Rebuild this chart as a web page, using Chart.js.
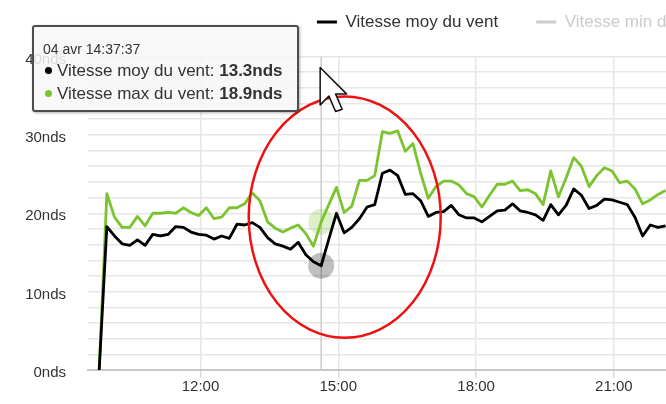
<!DOCTYPE html>
<html>
<head>
<meta charset="utf-8">
<script src="https://cdn.jsdelivr.net/npm/chart.js@4"></script>
<style>
  html, body { margin: 0; padding: 0; overflow: hidden; background: #ffffff; }
  #wrap { position: relative; width: 970px; height: 404px; }
  #tip {
    position: absolute; display: none;
    background: rgba(247, 247, 247, 0.85);
    border: 2px solid #4d4d4d; border-radius: 3px;
    padding: 14px 14px 5px 9px;
    font-family: 'Liberation Sans', Arial, sans-serif; color: #333333;
    white-space: nowrap; pointer-events: none;
    box-shadow: 1px 1px 3px rgba(0, 0, 0, 0.3);
  }
  #tip .title { font-size: 14px; line-height: 16px; margin-bottom: 2px; }
  #tip .row { font-size: 17px; line-height: 23px; }
  #tip .dot { display: inline-block; width: 7px; height: 7px; border-radius: 50%; margin: 0 5px 2px 2px; vertical-align: middle; }
</style>
</head>
<body>
<div id="wrap">
  <canvas id="chart" width="970" height="404"></canvas>
  <div id="tip"></div>
</div>
<script>
const dateLabel = '04 avr';
const startTime = '09:47:37';
const stepMinutes = 10;
const unit = 'nds';

const seriesNames = ['Vitesse moy du vent', 'Vitesse min du vent', 'Vitesse max du vent'];

const vitesseMoy = [
    0, 18.3, 17.1, 16.1, 15.9, 16.6, 15.9, 17.3, 17.1, 17.3,
    18.3, 18.2, 17.6, 17.3, 17.2, 16.7, 17.1, 16.8, 18.6, 18.5,
    18.8, 18.2, 16.9, 16.1, 15.8, 15.4, 16.3, 14.7, 13.8, 13.3,
    16.7, 20.0, 17.5, 18.2, 19.3, 20.8, 21.1, 25.1, 25.5, 24.8,
    22.4, 22.5, 21.6, 19.6, 20.1, 20.2, 21.0, 19.8, 19.4, 19.4,
    18.9, 19.6, 20.3, 20.4, 21.2, 20.3, 20.1, 19.8, 19.1, 21.1,
    19.8, 21.0, 23.1, 22.3, 20.6, 21.0, 21.8, 21.7, 21.4, 21.1,
    19.5, 17.1, 18.5, 18.2, 18.4
];
const vitesseMax = [
    0, 22.5, 19.5, 18.2, 18.2, 19.6, 18.4, 20.0, 20.0, 20.1,
    20.0, 20.7, 20.1, 19.7, 20.7, 19.3, 19.5, 20.7, 20.7, 21.2,
    22.6, 21.6, 18.9, 18.1, 17.6, 18.1, 18.5, 17.4, 15.8, 18.9,
    21.1, 23.3, 20.1, 20.9, 24.2, 24.2, 24.8, 30.4, 30.2, 30.5,
    27.9, 28.9, 25.1, 21.9, 23.4, 24.1, 24.1, 23.6, 22.5, 22.1,
    20.8, 22.3, 23.7, 23.7, 24.1, 22.9, 23.0, 22.5, 21.1, 25.4,
    22.1, 24.5, 27.1, 26.0, 23.4, 24.8, 25.8, 25.4, 23.9, 24.1,
    23.1, 21.2, 21.7, 22.4, 22.9
];
const vitesseMin = []; // série masquée dans la légende

const xTickHours = [12, 15, 18, 21, 24, 27];
const xTickLabels = ['12:00', '15:00', '18:00', '21:00', '00:00', '03:00'];
const yTicks = [0, 10, 20, 30, 40];
const hoverIndex = 29;

// zone entourée en rouge (heure, valeur) et demi-axes
const circleCenter = [15.14, 19.5];
const circleRadius = [2.09, 15.4];

const toHours = (s) => {
    const [h, m, sec] = s.split(':').map(Number);
    return h + m / 60 + sec / 3600;
};
const formatTime = (h) => {
    const t = Math.round(h * 3600);
    const p = (n) => String(n).padStart(2, '0');
    return p(Math.floor(t / 3600) % 24) + ':' + p(Math.floor(t / 60) % 60) + ':' + p(t % 60);
};
const hours = vitesseMoy.map((v, i) => toHours(startTime) + i * stepMinutes / 60);
const points = (values) => values.map((v, i) => ({ x: hours[i], y: v }));

Chart.defaults.font.family = "'Liberation Sans', Arial, sans-serif";
Chart.defaults.color = '#333333';

const renderTooltip = (context) => {
    const tt = context.tooltip;
    const chart = context.chart;
    const el = document.getElementById('tip');
    if (tt.opacity === 0 || !tt.dataPoints || !tt.dataPoints.length) {
        el.style.display = 'none';
        return;
    }
    const i = tt.dataPoints[0].dataIndex;
    let html = '<div class="title">' + dateLabel + ' ' + formatTime(hours[i]) + '</div>';
    tt.dataPoints.forEach(p => {
        html += '<div class="row"><span class="dot" style="background:' + p.dataset.borderColor + '"></span>' +
            p.dataset.label + ': <b>' + p.parsed.y.toFixed(1) + unit + '</b></div>';
    });
    el.innerHTML = html;
    el.style.left = (chart.chartArea.left - 56) + 'px';
    el.style.top = (chart.chartArea.top - 32) + 'px';
    el.style.display = 'block';
};

const overlay = {
    id: 'overlay',
    beforeDatasetsDraw(chart) {
        const active = chart.getActiveElements();
        if (!active.length) return;
        const { ctx, chartArea } = chart;
        const x = active[0].element.x;
        ctx.save();
        ctx.strokeStyle = '#cccccc';
        ctx.lineWidth = 1.5;
        ctx.beginPath();
        ctx.moveTo(x, chartArea.top);
        ctx.lineTo(x, chartArea.bottom);
        ctx.stroke();
        ctx.restore();
    },
    afterDraw(chart) {
        const { ctx, chartArea } = chart;
        const sx = chart.scales.x, sy = chart.scales.y;
        const cx = sx.getPixelForValue(circleCenter[0]);
        const cy = sy.getPixelForValue(circleCenter[1]);
        const rx = sx.getPixelForValue(circleCenter[0] + circleRadius[0]) - cx;
        const ry = cy - sy.getPixelForValue(circleCenter[1] + circleRadius[1]);
        ctx.save();
        ctx.strokeStyle = '#ee1111';
        ctx.lineWidth = 2.5;
        ctx.beginPath();
        ctx.ellipse(cx, cy, rx, ry, 0, 0, Math.PI * 2);
        ctx.stroke();

        // pointeur de la souris
        const active = chart.getActiveElements();
        if (active.length) {
            const px = active[0].element.x - 1, py = chartArea.top + 11, k = 2.2;
            const arrow = [[0, 0], [0, 17], [4, 13], [7, 20], [10, 19], [7, 12], [12, 12]];
            ctx.beginPath();
            arrow.forEach(([a, b], j) => j ? ctx.lineTo(px + a * k, py + b * k) : ctx.moveTo(px + a * k, py + b * k));
            ctx.closePath();
            ctx.fillStyle = '#ffffff';
            ctx.fill();
            ctx.strokeStyle = '#111111';
            ctx.lineWidth = 1.5;
            ctx.lineJoin = 'round';
            ctx.stroke();
        }
        ctx.restore();
    }
};

const ctx = document.getElementById('chart').getContext('2d');
const chart = new Chart(ctx, {
    type: 'line',
    data: {
        datasets: [
            {
                label: seriesNames[0],
                data: points(vitesseMoy),
                borderColor: '#000000',
                backgroundColor: '#000000',
                borderWidth: 2.8,
                pointRadius: 0,
                pointHoverRadius: 13,
                pointHoverBorderWidth: 0,
                pointHoverBackgroundColor: 'rgba(0, 0, 0, 0.25)',
                borderJoinStyle: 'round',
                tension: 0
            },
            {
                label: seriesNames[1],
                data: points(vitesseMin),
                borderColor: '#cccccc',
                hidden: true
            },
            {
                label: seriesNames[2],
                data: points(vitesseMax),
                borderColor: '#7cc42f',
                backgroundColor: '#7cc42f',
                borderWidth: 2.8,
                pointRadius: 0,
                pointHoverRadius: 13,
                pointHoverBorderWidth: 0,
                pointHoverBackgroundColor: 'rgba(124, 196, 47, 0.25)',
                borderJoinStyle: 'round',
                tension: 0
            }
        ]
    },
    options: {
        responsive: false,
        animation: false,
        events: [],
        layout: { padding: { top: -24.5, right: 0, bottom: 0, left: 0 } },
        scales: {
            x: {
                type: 'linear',
                min: 9.55,
                max: 28.69,
                afterBuildTicks: (axis) => { axis.ticks = xTickHours.map(v => ({ value: v })); },
                afterFit: (scale) => { scale.height = 34; },
                ticks: {
                    autoSkip: false,
                    maxRotation: 0,
                    padding: 0,
                    font: { size: 15 },
                    color: '#333333',
                    callback: (v) => xTickLabels[xTickHours.indexOf(v)]
                },
                grid: { color: '#e6e6e6', lineWidth: 1.5, tickLength: 8, tickColor: '#d5dde9' },
                border: { color: '#c8c8c8', width: 2 }
            },
            y: {
                min: 0,
                max: 40,
                afterFit: (scale) => { scale.width = 88; },
                ticks: {
                    stepSize: 2,
                    autoSkip: false,
                    padding: 22,
                    labelOffset: 3,
                    font: { size: 15 },
                    color: '#333333',
                    callback: (v) => yTicks.includes(v) ? v + unit : ''
                },
                grid: { color: '#e6e6e6', lineWidth: 1.5, drawTicks: false },
                border: { display: false }
            }
        },
        plugins: {
            legend: {
                position: 'top',
                align: 'end',
                labels: {
                    boxWidth: 20,
                    boxHeight: 3,
                    padding: 38,
                    font: { size: 17 },
                    generateLabels: (c) => c.data.datasets.map((ds, i) => ({
                        text: ds.label,
                        fillStyle: ds.hidden ? '#cccccc' : ds.borderColor,
                        strokeStyle: 'rgba(0,0,0,0)',
                        lineWidth: 0,
                        fontColor: ds.hidden ? '#cccccc' : '#333333',
                        hidden: false,
                        datasetIndex: i
                    }))
                }
            },
            // espace vide entre la légende et la zone de tracé
            title: {
                display: true,
                text: '',
                weight: 500,
                font: { size: 10, lineHeight: 1 },
                padding: { top: 6, bottom: 0 }
            },
            tooltip: {
                enabled: false,
                mode: 'index',
                intersect: false,
                external: renderTooltip
            }
        }
    },
    plugins: [overlay]
});

const active = [{ datasetIndex: 0, index: hoverIndex }, { datasetIndex: 2, index: hoverIndex }];
chart.setActiveElements(active);
chart.tooltip.setActiveElements(active, { x: 0, y: 0 });
chart.update();
</script>
</body>
</html>
